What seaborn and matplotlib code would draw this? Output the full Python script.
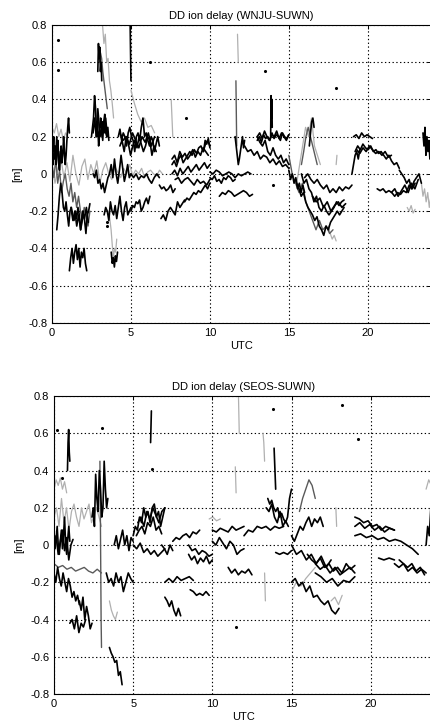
"""DD ion delay for two baselines (WNJU-SUWN, SEOS-SUWN), grayscale arc plot."""

import matplotlib
matplotlib.use("Agg")
import matplotlib.pyplot as plt
from matplotlib.ticker import FuncFormatter
import numpy as np
import pandas as pd
import seaborn as sns

# ---- data: each arc is (start UTC, end UTC, [values in m]) ----
wnju_black = [
    (0.0, 1.1, [0.18, 0.12, 0.2, 0.08, 0.15, 0.05, 0.12, 0.18, 0.1, 0.02, 0.08, 0.15, 0.06, 0.1, 0.2, 0.12, 0.05, 0.1, 0.18, 0.25, 0.3, 0.22]),
    (0.0, 0.6, [0.12, 0.05, 0.15, 0.08, 0.2, 0.1, 0.03, 0.12, 0.06]),
    (0.3, 2.4, [-0.3, -0.22, -0.12, -0.05, -0.1, -0.18, -0.2, -0.15, -0.22, -0.28, -0.2, -0.18, -0.22, -0.25, -0.2, -0.24, -0.18, -0.22, -0.3, -0.26, -0.2, -0.25, -0.32, -0.22, -0.2, -0.16]),
    (1.2, 2.3, [-0.18, -0.25, -0.2, -0.28, -0.22, -0.3, -0.2, -0.24, -0.18, -0.26]),
    (1.1, 2.2, [-0.52, -0.45, -0.4, -0.48, -0.42, -0.38, -0.46, -0.4, -0.5, -0.42, -0.45, -0.4, -0.48, -0.52]),
    (2.5, 3.6, [0.2, 0.25, 0.3, 0.42, 0.35, 0.2, 0.28, 0.15, 0.22, 0.3, 0.25, 0.18, 0.28, 0.32, 0.22, 0.2, 0.25, 0.18]),
    (2.6, 3.5, [0.22, 0.3, 0.2, 0.35, 0.25, 0.2, 0.28, 0.22, 0.3, 0.2]),
    (2.9, 3.15, [0.55, 0.7, 0.62, 0.68, 0.55, 0.6, 0.5]),
    (2.6, 5.0, [0.0, -0.02, 0.02, -0.05, -0.03, -0.08, -0.05, -0.1, -0.06, -0.02, 0.0, 0.05, -0.02, 0.08, 0.0, -0.05, 0.02, 0.1, 0.03, -0.04, 0.0, 0.05, -0.02, 0.0]),
    (3.3, 5.0, [-0.22, -0.18, -0.2, -0.25, -0.15, -0.2, -0.22, -0.17, -0.24, -0.18, -0.12, -0.2, -0.25, -0.18, -0.15, -0.22, -0.2, -0.18]),
    (5.0, 6.2, [-0.2, -0.17, -0.18, -0.15, -0.16, -0.14, -0.2, -0.18, -0.15, -0.13, -0.16, -0.12]),
    (3.75, 4.15, [-0.42, -0.48, -0.45, -0.5, -0.44, -0.47, -0.42]),
    (4.2, 6.8, [0.2, 0.24, 0.18, 0.22, 0.2, 0.15, 0.22, 0.25, 0.2, 0.18, 0.12, 0.2, 0.22, 0.18, 0.25, 0.3, 0.2, 0.22, 0.18, 0.15, 0.2, 0.18, 0.12, 0.16, 0.2, 0.15]),
    (4.3, 6.6, [0.15, 0.18, 0.12, 0.2, 0.16, 0.1, 0.15, 0.18, 0.14, 0.2, 0.16, 0.12, 0.15, 0.2, 0.18, 0.1, 0.15, 0.12]),
    (4.3, 6.5, [0.22, 0.18, 0.2, 0.16, 0.22, 0.18, 0.14, 0.2, 0.17, 0.22, 0.15, 0.2]),
    (4.95, 5.0, [0.8, 0.5]),
    (5.0, 6.8, [0.0, -0.02, 0.0, -0.03, -0.01, -0.02, 0.0, -0.03, -0.05, -0.02, 0.0, -0.02]),
    (6.9, 8.4, [-0.24, -0.22, -0.25, -0.2, -0.18, -0.2, -0.22, -0.15, -0.18, -0.16, -0.14]),
    (8.4, 10.0, [-0.15, -0.13, -0.14, -0.12, -0.1, -0.11, -0.09, -0.1, -0.08, -0.06, -0.08, -0.05]),
    (6.8, 7.8, [-0.06, -0.08, -0.07, -0.09, -0.08, -0.06, -0.1, -0.08]),
    (7.6, 10.0, [0.05, 0.07, 0.04, 0.08, 0.1, 0.06, 0.08, 0.1, 0.12, 0.1, 0.13, 0.11, 0.14, 0.15, 0.12, 0.16, 0.18, 0.15]),
    (7.6, 9.9, [0.08, 0.1, 0.06, 0.12, 0.09, 0.11, 0.08, 0.1, 0.13, 0.09, 0.12, 0.1, 0.14, 0.12, 0.1]),
    (9.6, 10.0, [0.12, 0.18, 0.16, 0.19, 0.14]),
    (7.6, 10.0, [0.0, 0.02, -0.01, 0.03, 0.0, 0.02, 0.04, 0.01, 0.03, 0.05, 0.02, 0.04, 0.06, 0.03, 0.05]),
    (7.8, 10.0, [-0.03, -0.02, -0.05, -0.03, -0.02, -0.04, -0.06, -0.03, -0.05, -0.04, -0.06, -0.03]),
    (10.0, 11.6, [-0.02, -0.03, -0.01, -0.04, -0.03, -0.05, -0.02, -0.03, -0.01, -0.02, -0.04, -0.03]),
    (10.0, 12.6, [0.01, 0.0, 0.02, 0.01, -0.01, 0.0, 0.01, 0.0, -0.02, 0.0, -0.01, 0.0, 0.01, 0.0]),
    (10.6, 12.7, [-0.12, -0.1, -0.11, -0.09, -0.1, -0.12, -0.11, -0.1, -0.09, -0.1, -0.12, -0.11]),
    (11.6, 12.2, [0.2, 0.15, 0.1, 0.05, 0.08, 0.12, 0.16, 0.2, 0.14, 0.18]),
    (13.0, 15.0, [0.18, 0.2, 0.17, 0.21, 0.19, 0.2, 0.18, 0.22, 0.19, 0.21, 0.2, 0.18, 0.22, 0.2, 0.19, 0.21]),
    (13.0, 15.0, [0.2, 0.22, 0.19, 0.23, 0.2, 0.18, 0.21, 0.2, 0.23, 0.19, 0.22, 0.2, 0.18, 0.21]),
    (13.85, 13.95, [0.2, 0.42, 0.3, 0.4, 0.25]),
    (12.2, 15.0, [0.15, 0.12, 0.13, 0.1, 0.12, 0.08, 0.1, 0.09, 0.06, 0.08, 0.05, 0.07, 0.04, 0.05, 0.03]),
    (13.0, 15.0, [0.2, 0.17, 0.15, 0.18, 0.12, 0.1, 0.14, 0.1, 0.08, 0.1, 0.06, 0.08, 0.05]),
    (15.0, 16.0, [0.02, -0.03, 0.0, -0.05, -0.02, -0.08, -0.05, -0.1, -0.06, -0.1]),
    (15.5, 18.5, [-0.05, -0.08, -0.12, -0.1, -0.15, -0.18, -0.2, -0.22, -0.25, -0.23, -0.28, -0.3, -0.33, -0.28, -0.3, -0.26, -0.24, -0.22, -0.2, -0.22, -0.2, -0.18]),
    (15.8, 18.5, [0.0, -0.05, -0.03, -0.08, -0.1, -0.15, -0.12, -0.18, -0.2, -0.17, -0.2, -0.22, -0.2, -0.18, -0.15, -0.17, -0.15, -0.14]),
    (16.5, 18.6, [-0.12, -0.15, -0.13, -0.18, -0.15, -0.2, -0.17, -0.15, -0.18, -0.16]),
    (16.0, 19.0, [-0.02, 0.0, -0.03, -0.05, -0.03, -0.06, -0.08, -0.06, -0.1, -0.08, -0.1, -0.07, -0.09, -0.07, -0.08, -0.06]),
    (16.3, 16.6, [0.15, 0.22, 0.28, 0.3, 0.25]),
    (19.1, 20.3, [0.2, 0.21, 0.19, 0.22, 0.2, 0.21, 0.2, 0.19]),
    (19.2, 22.0, [0.12, 0.15, 0.13, 0.16, 0.14, 0.13, 0.15, 0.12, 0.13, 0.11, 0.12, 0.1, 0.08, 0.1, 0.07, 0.05, 0.06, 0.03]),
    (19.3, 21.5, [0.13, 0.11, 0.14, 0.12, 0.15, 0.13, 0.11, 0.12, 0.1, 0.12, 0.09, 0.1]),
    (19.0, 19.5, [0.0, 0.05, 0.1, 0.12, 0.08, 0.13]),
    (20.6, 23.0, [-0.08, -0.09, -0.08, -0.1, -0.09, -0.1, -0.12, -0.1, -0.11, -0.09, -0.1, -0.06, -0.08, -0.05]),
    (21.5, 23.2, [-0.1, -0.08, -0.12, -0.09, -0.06, -0.1, -0.05, -0.08, -0.03]),
    (22.0, 23.4, [0.02, 0.0, -0.02, -0.05, -0.03, -0.08, -0.04, -0.02, 0.0, -0.05]),
    (23.5, 24.0, [0.22, 0.15, 0.25, 0.1, 0.2, 0.12, 0.18, 0.08, 0.15]),
]
wnju_dark = [
    (0.0, 2.4, [0.05, -0.02, 0.08, -0.05, 0.02, -0.1, -0.04, 0.0, -0.08, -0.12, -0.05, -0.15, -0.1, -0.18, -0.12, -0.2, -0.25, -0.18, -0.22, -0.28, -0.2]),
    (3.0, 3.5, [0.6, 0.65, 0.62, 0.55, 0.5, 0.45, 0.4, 0.35]),
    (15.0, 17.8, [0.1, 0.0, -0.05, -0.1, -0.05, -0.15, -0.2, -0.25, -0.3, -0.25, -0.3, -0.28, -0.32, -0.3]),
    (15.8, 16.8, [0.05, 0.12, 0.2, 0.25, 0.2, 0.15, 0.1, 0.05]),
    (11.65, 11.7, [0.5, 0.15]),
]
wnju_light = [
    (0.0, 1.0, [0.25, 0.22, 0.27, 0.2, 0.24, 0.18, 0.22, 0.2]),
    (0.0, 7.0, [0.05, -0.05, 0.03, 0.08, -0.02, 0.06, -0.04, 0.1, 0.0, -0.06, 0.04, 0.08, -0.03, 0.05, 0.0, 0.07, -0.05, 0.02, 0.06, 0.0,
                -0.03, 0.04, 0.01, -0.02, 0.03, 0.0, 0.05, -0.01, 0.02, 0.0, 0.03, -0.02, 0.01, 0.02, 0.0, -0.01, 0.02, 0.0]),
    (3.2, 3.9, [0.8, 0.7, 0.75, 0.6, 0.62, 0.5, 0.45, 0.38, 0.3]),
    (3.6, 4.1, [-0.2, -0.25, -0.3, -0.38, -0.45, -0.4, -0.42, -0.35]),
    (5.0, 6.5, [0.45, 0.38, 0.32, 0.28, 0.3, 0.25, 0.26, 0.22]),
    (7.55, 7.65, [0.4, 0.3, 0.2]),
    (11.75, 11.8, [0.75, 0.6]),
    (15.5, 17.0, [-0.05, 0.05, 0.15, 0.25, 0.2, 0.3, 0.15, 0.1, 0.05]),
    (17.5, 18.0, [-0.28, -0.32, -0.35, -0.33, -0.36]),
    (18.0, 18.05, [0.05, 0.1]),
    (22.5, 23.0, [-0.18, -0.2, -0.17, -0.21, -0.19]),
    (23.4, 24.0, [-0.05, -0.12, -0.08, -0.15, -0.1, -0.18, -0.12]),
]
wnju_dots_t = [0.4, 0.4, 6.2, 8.5, 13.5, 18.0, 14.0, 3.5, 3.5]
wnju_dots_v = [0.72, 0.56, 0.6, 0.3, 0.55, 0.46, -0.06, -0.26, -0.28]

seos_black = [
    (0.0, 1.0, [0.05, -0.02, 0.03, 0.1, 0.0, -0.05, 0.02, 0.08, -0.02, 0.05, 0.15, 0.0, -0.05, 0.03, 0.1, 0.02]),
    (0.0, 1.2, [0.0, 0.05, -0.05, 0.02, 0.08, -0.03, 0.04, -0.08, 0.0, 0.03]),
    (0.0, 1.6, [-0.15, -0.2, -0.12, -0.18, -0.22, -0.15, -0.2, -0.25, -0.18, -0.22, -0.28, -0.25, -0.3, -0.27, -0.32]),
    (1.6, 2.4, [-0.3, -0.35, -0.28, -0.4, -0.33, -0.38, -0.45, -0.42]),
    (0.85, 1.0, [0.4, 0.55, 0.62, 0.5, 0.45]),
    (1.0, 2.0, [-0.42, -0.4, -0.45, -0.38, -0.47, -0.42, -0.44, -0.4]),
    (2.4, 3.4, [0.15, 0.2, 0.1, 0.38, 0.25, 0.18, 0.4, 0.3, 0.15, 0.2, 0.45, 0.3, 0.2, 0.25]),
    (3.5, 4.3, [-0.55, -0.58, -0.6, -0.63, -0.62, -0.7, -0.68, -0.75]),
    (3.3, 5.0, [-0.15, -0.2, -0.18, -0.22, -0.15, -0.2, -0.17, -0.25, -0.2, -0.15, -0.18, -0.2]),
    (3.8, 5.0, [0.0, 0.05, -0.02, 0.03, 0.08, 0.0, 0.05, -0.03, 0.04, 0.02]),
    (5.0, 7.0, [0.05, 0.1, 0.08, 0.15, 0.12, 0.2, 0.15, 0.18, 0.12, 0.2, 0.22, 0.15, 0.18, 0.1, 0.15, 0.2]),
    (5.3, 7.0, [0.12, 0.15, 0.1, 0.18, 0.14, 0.2, 0.16, 0.12, 0.18, 0.2]),
    (5.2, 6.8, [0.05, 0.08, 0.1, 0.06, 0.12, 0.1, 0.15, 0.08, 0.1, 0.06]),
    (5.0, 7.0, [0.0, -0.02, 0.01, -0.04, -0.02, -0.05, -0.03, -0.06, -0.04, -0.02]),
    (6.1, 6.15, [0.55, 0.72]),
    (7.0, 8.0, [-0.28, -0.3, -0.33, -0.3, -0.35, -0.38, -0.34, -0.38]),
    (7.0, 8.8, [-0.2, -0.18, -0.2, -0.17, -0.19, -0.18, -0.17, -0.19]),
    (6.8, 7.5, [0.0, -0.02, -0.05, 0.0, -0.03]),
    (7.5, 9.2, [0.02, 0.04, 0.03, 0.05, 0.06, 0.04, 0.07, 0.06, 0.08]),
    (8.6, 9.8, [-0.24, -0.25, -0.27, -0.26, -0.27, -0.25, -0.27]),
    (8.5, 10.0, [-0.05, -0.08, -0.06, -0.1, -0.07, -0.09, -0.06, -0.1, -0.08]),
    (8.5, 10.0, [0.0, -0.03, -0.02, -0.05, -0.03, -0.04, -0.06, -0.05]),
    (10.0, 12.0, [0.08, 0.07, 0.09, 0.08, 0.07, 0.1, 0.08, 0.09, 0.1]),
    (10.0, 12.0, [0.02, 0.0, 0.04, 0.01, -0.02, 0.02, 0.0, -0.05, -0.03, -0.02]),
    (11.0, 12.5, [-0.12, -0.15, -0.13, -0.16, -0.14, -0.15, -0.13, -0.16]),
    (12.0, 14.5, [0.05, 0.08, 0.07, 0.1, 0.09, 0.1, 0.08, 0.1, 0.09, 0.1]),
    (13.5, 15.0, [0.25, 0.22, 0.24, 0.2, 0.18, 0.2, 0.15, 0.17, 0.14, 0.12, 0.15, 0.25, 0.3]),
    (13.4, 14.8, [0.2, 0.18, 0.22, 0.15, 0.12, 0.18, 0.1, 0.13, 0.1]),
    (13.9, 14.0, [0.52, 0.3]),
    (14.0, 15.0, [-0.04, -0.05, -0.04, -0.05, -0.03]),
    (15.0, 17.0, [0.05, 0.02, 0.06, 0.1, 0.08, 0.12, 0.15, 0.1, 0.14, 0.12, 0.15, 0.1]),
    (15.0, 18.0, [-0.2, -0.18, -0.22, -0.2, -0.25, -0.22, -0.28, -0.27, -0.3, -0.32, -0.3, -0.35, -0.37, -0.34]),
    (16.0, 19.0, [-0.05, -0.08, -0.1, -0.07, -0.12, -0.1, -0.14, -0.12, -0.15, -0.1, -0.13, -0.11]),
    (16.5, 19.0, [-0.1, -0.13, -0.11, -0.15, -0.12, -0.16, -0.14, -0.12, -0.15]),
    (16.5, 19.0, [-0.15, -0.17, -0.2, -0.18, -0.22, -0.19, -0.2, -0.17]),
    (15.0, 17.5, [0.0, -0.05, -0.03, -0.08, -0.05, -0.1, -0.06, -0.12, -0.08]),
    (19.0, 21.5, [0.15, 0.14, 0.12, 0.13, 0.1, 0.11, 0.08, 0.1, 0.09, 0.08]),
    (19.0, 21.5, [0.1, 0.12, 0.09, 0.11, 0.08, 0.1, 0.07, 0.09, 0.08]),
    (19.0, 23.0, [0.05, 0.06, 0.04, 0.05, 0.03, 0.04, 0.02, 0.03, 0.02, 0.0, -0.02, -0.05]),
    (20.5, 21.5, [-0.07, -0.08, -0.07, -0.08]),
    (21.5, 23.5, [-0.1, -0.12, -0.1, -0.14, -0.12, -0.15, -0.13, -0.15]),
    (21.8, 23.4, [-0.08, -0.1, -0.12, -0.1, -0.14, -0.12, -0.16]),
    (23.5, 24.0, [0.0, 0.1, 0.05, 0.2, 0.1, 0.15]),
]
seos_dark = [
    (0.0, 3.0, [-0.1, -0.12, -0.11, -0.13, -0.12, -0.14, -0.13, -0.12, -0.14, -0.15, -0.13, -0.15]),
    (2.9, 3.0, [0.45, 0.2, -0.1, -0.4, -0.55]),
    (15.5, 16.5, [0.18, 0.25, 0.3, 0.35, 0.32, 0.25]),
]
seos_light = [
    (0.0, 0.8, [0.3, 0.35, 0.32, 0.36, 0.3, 0.34, 0.28]),
    (0.0, 3.0, [0.15, 0.2, 0.1, 0.25, 0.12, 0.2, 0.08, 0.18, 0.22, 0.15, 0.1, 0.2, 0.14, 0.18, 0.22, 0.12, 0.16, 0.2, 0.15, 0.1]),
    (3.5, 4.0, [-0.3, -0.35, -0.38, -0.4, -0.36]),
    (9.8, 10.5, [0.14, 0.15, 0.13, 0.14]),
    (13.2, 13.3, [0.6, 0.55, 0.45]),
    (11.65, 11.7, [0.8, 0.6]),
    (11.45, 11.5, [0.42, 0.28]),
    (13.3, 13.35, [-0.15, -0.3]),
    (17.8, 17.85, [0.2, 0.1]),
    (15.0, 16.5, [-0.25, -0.2, -0.22, -0.18, -0.15, -0.12]),
    (17.5, 18.2, [-0.3, -0.28, -0.32, -0.27]),
    (23.5, 24.0, [0.3, 0.35, 0.32, 0.37]),
]
seos_dots_t = [0.2, 0.5, 3.0, 6.2, 13.8, 11.5, 18.2, 19.2]
seos_dots_v = [0.62, 0.36, 0.63, 0.41, 0.73, -0.44, 0.75, 0.57]

shade_colors = {"black": "#000000", "dark": "#5a5a5a", "light": "#b0b0b0"}
shade_width = {"black": 1.2, "dark": 1.0, "light": 0.9}


def arcs_frame(groups):
    rows = []
    seg = 0
    for shade, arcs in groups:
        for t0, t1, vals in arcs:
            ts = np.linspace(t0, t1, len(vals))
            for t, v in zip(ts, vals):
                rows.append((shade, seg, t, v))
            seg += 1
    return pd.DataFrame(rows, columns=["shade", "seg", "t", "v"])


def draw_panel(ax, groups, dots_t, dots_v, title):
    df = arcs_frame(groups)
    # light first so black stays on top
    for shade in ["light", "dark", "black"]:
        sub = df[df["shade"] == shade]
        if sub.empty:
            continue
        sns.lineplot(data=sub, x="t", y="v", units="seg", estimator=None,
                     color=shade_colors[shade], lw=shade_width[shade],
                     sort=False, ax=ax, legend=False)
    sns.scatterplot(x=dots_t, y=dots_v, color="black", s=5, linewidth=0, ax=ax)

    ax.set_xlim(0, 24)
    ax.set_ylim(-0.8, 0.8)
    ax.set_xticks([0, 5, 10, 15, 20])
    ax.set_yticks(np.arange(-0.8, 0.81, 0.2))
    ax.yaxis.set_major_formatter(FuncFormatter(lambda v, p: f"{v:g}" if abs(v) > 1e-9 else "0"))
    ax.grid(True, color="black", linestyle=(0, (1.2, 2.2)), lw=0.8)
    ax.tick_params(direction="in", length=3, labelsize=8, width=0.7, top=True, right=True,
                   colors="black")
    for s in ax.spines.values():
        s.set_color("black")
        s.set_linewidth(0.8)
    ax.set_title(title, fontsize=8, pad=4, color="black")
    ax.set_xlabel("UTC", fontsize=8, labelpad=2, color="black")
    ax.set_ylabel("[m]", fontsize=8, labelpad=4, color="black")


sns.set_style("white")
plt.rcParams["font.family"] = ["Liberation Sans", "DejaVu Sans"]
plt.rcParams["axes.unicode_minus"] = False
plt.rcParams["text.color"] = "black"

fig = plt.figure(figsize=(4.31, 7.24), dpi=100)
ax_top = fig.add_axes([0.1207, 0.554, 0.879, 0.4116])
ax_bot = fig.add_axes([0.1253, 0.0414, 0.8817, 0.4116])

draw_panel(ax_top, [("light", wnju_light), ("dark", wnju_dark), ("black", wnju_black)],
           wnju_dots_t, wnju_dots_v, "DD ion delay (WNJU-SUWN)")
draw_panel(ax_bot, [("light", seos_light), ("dark", seos_dark), ("black", seos_black)],
           seos_dots_t, seos_dots_v, "DD ion delay (SEOS-SUWN)")

fig.savefig("out.png", dpi=100)
